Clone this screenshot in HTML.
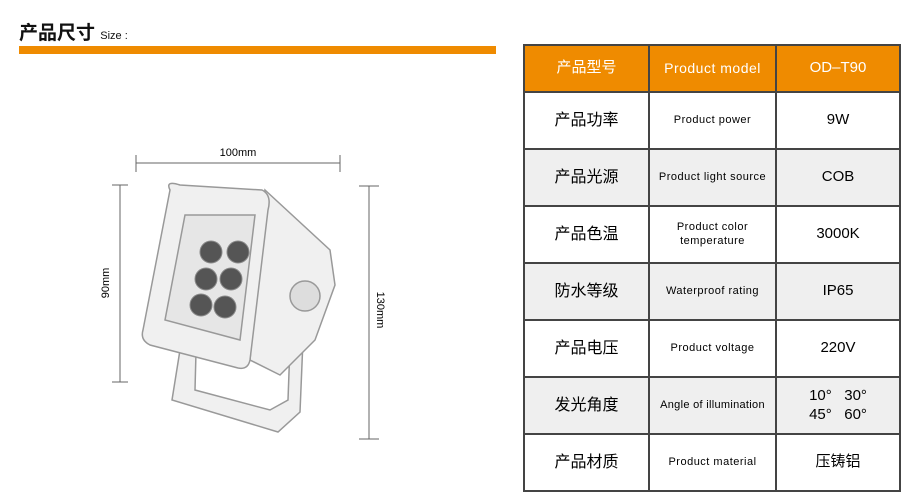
<!DOCTYPE html>
<html><head><meta charset="utf-8"><style>
body{margin:0;width:919px;height:504px;background:#fff;position:relative;overflow:hidden;font-family:"Liberation Sans","Noto Sans CJK SC",sans-serif;}
.title{position:absolute;left:19px;top:18px;font-size:19px;color:#111;font-weight:bold;}
.title small{font-size:11px;font-weight:normal;}
.bar{position:absolute;left:19px;top:46px;width:477px;height:8px;background:#ef8b00;}
table{position:absolute;left:523px;top:44px;border-collapse:collapse;}
td{border:2px solid #444;text-align:center;padding:0;line-height:1.25;}
td.a{width:123px;font-size:16px;}
td.b{width:125px;font-size:11px;letter-spacing:.5px;}
td.c{width:122px;font-size:15px;}
tr{height:57px;}
tr.h{height:47px;background:#ef8b00;color:#fff;}
tr.h td{font-size:15px;}
tr.g{background:#efefef;}
</style></head><body>
<div class="title">产品尺寸 <small>Size :</small></div>
<div class="bar"></div>
<svg style="position:absolute;left:0;top:0" width="519" height="504">
<g stroke="#666" stroke-width="1" fill="none">
<line x1="136" y1="163" x2="340" y2="163"/><line x1="136" y1="155" x2="136" y2="172"/><line x1="340" y1="155" x2="340" y2="172"/>
<line x1="120" y1="185" x2="120" y2="382"/><line x1="112" y1="185" x2="128" y2="185"/><line x1="112" y1="382" x2="128" y2="382"/>
<line x1="369" y1="186" x2="369" y2="439"/><line x1="359" y1="186" x2="379" y2="186"/><line x1="359" y1="439" x2="379" y2="439"/>
</g>
<text x="238" y="156" font-size="11" text-anchor="middle" font-family="Liberation Sans">100mm</text>
<text transform="translate(109,283) rotate(-90)" font-size="11" text-anchor="middle" font-family="Liberation Sans">90mm</text>
<text transform="translate(377,310) rotate(90)" font-size="11" text-anchor="middle" font-family="Liberation Sans">130mm</text>
<g stroke="#999" stroke-width="1.5" fill="#f0f0f0">
<path d="M180 350 L172 400 L278 432 L300 412 L303 340 L290 345 L288 400 L270 410 L195 390 L196 352 Z"/>
<path d="M265 190 L330 250 L335 285 L315 340 L280 375 L250 360 Z"/>
<path d="M170 190 Q165 180 180 185 L262 190 Q272 195 268 210 L250 360 Q248 370 238 368 L150 345 Q140 340 143 330 Z"/>
<path d="M185 215 L255 215 L240 340 L165 320 Z" fill="#e6e6e6"/>
<circle cx="305" cy="296" r="15" fill="#ddd"/>
</g>
<g fill="#555" stroke="#888">
<circle cx="211" cy="252" r="11"/><circle cx="238" cy="252" r="11"/>
<circle cx="206" cy="279" r="11"/><circle cx="231" cy="279" r="11"/>
<circle cx="201" cy="305" r="11"/><circle cx="225" cy="307" r="11"/>
</g>
</svg>
<table>
<tr class="h"><td class="a">产品型号</td><td class="b" style="font-size:14px">Product model</td><td class="c">OD–T90</td></tr>
<tr><td class="a">产品功率</td><td class="b">Product power</td><td class="c">9W</td></tr>
<tr class="g"><td class="a">产品光源</td><td class="b">Product light source</td><td class="c">COB</td></tr>
<tr><td class="a">产品色温</td><td class="b">Product color<br>temperature</td><td class="c">3000K</td></tr>
<tr class="g"><td class="a">防水等级</td><td class="b">Waterproof rating</td><td class="c">IP65</td></tr>
<tr><td class="a">产品电压</td><td class="b">Product voltage</td><td class="c">220V</td></tr>
<tr class="g"><td class="a">发光角度</td><td class="b" style="letter-spacing:.3px">Angle of illumination</td><td class="c">10°&nbsp;&nbsp;&nbsp;30°<br>45°&nbsp;&nbsp;&nbsp;60°</td></tr>
<tr><td class="a">产品材质</td><td class="b">Product material</td><td class="c">压铸铝</td></tr>
</table>
</body></html>
